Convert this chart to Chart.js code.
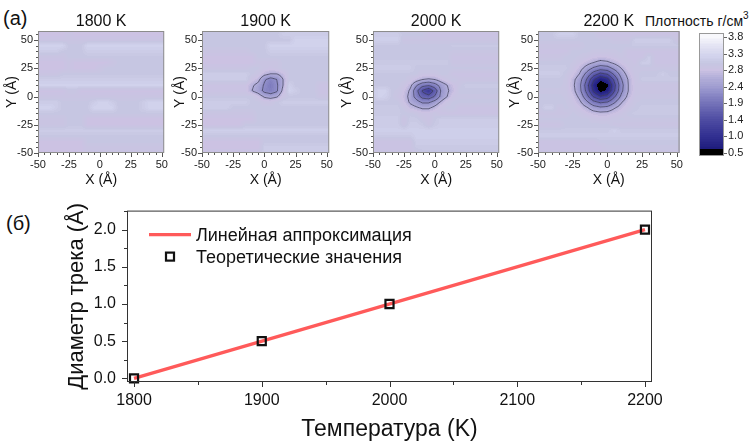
<!DOCTYPE html>
<html><head><meta charset="utf-8">
<script src="https://cdn.jsdelivr.net/npm/chart.js@4.4.1/dist/chart.umd.min.js"></script>
<style>
html,body{margin:0;padding:0;background:#fff;width:755px;height:443px;overflow:hidden;position:relative;font-family:'Liberation Sans',Arial,sans-serif;color:#111}
canvas{position:absolute}
.lbl{position:absolute;line-height:1;white-space:nowrap}
</style></head><body>
<div class="lbl" style="left:3px;top:8px;font-size:20px">(a)</div>
<div class="lbl" style="left:6px;top:213px;font-size:20px">(б)</div>
<div class="lbl" style="left:645px;top:14px;font-size:14px">Плотность г/см<span style="font-size:10px;position:relative;top:-7px">3</span></div>
<canvas id="h0"></canvas><canvas id="h1"></canvas><canvas id="h2"></canvas><canvas id="h3"></canvas>
<canvas id="cb"></canvas><canvas id="main"></canvas>
<script>
// ================= DATA =================
const gridX = [-50,-45,-40,-35,-30,-25,-20,-15,-10,-5,0,5,10,15,20,25,30,35,40,45,50];
const gridY = [60,55,50,45,40,35,30,25,20,15,10,5,0,-5,-10,-15,-20,-25,-30,-35,-40,-45,-50];

const dens1800 = [
 [2.8,2.8,2.8,2.8,2.8,2.8,2.8, 2.8,2.8,2.8,2.8,2.8,2.8,2.8, 2.8,2.8,2.8,2.8,2.8,2.8,2.8],
 [2.8,2.8,2.8,2.8,2.8,2.9,2.8, 2.8,2.8,2.8,2.8,2.8,2.8,2.8, 2.8,2.8,2.8,2.8,2.8,2.8,2.8],
 [2.9,2.9,2.9,2.9,2.9,2.9,2.9, 2.9,2.9,2.9,2.9,2.9,2.9,2.9, 2.9,2.9,2.9,2.9,2.9,2.9,2.9],
 [3.2,3.2,3.2,3.2,3.2,3.0,3.0, 3.0,3.2,3.2,3.2,3.2,3.2,3.2, 3.2,3.2,3.2,3.2,3.2,3.2,3.2],
 [3.1,3.1,3.1,3.1,3.0,3.0,3.0, 3.0,3.1,3.1,3.1,3.1,3.1,3.1, 3.1,3.1,3.1,3.1,3.1,3.1,3.1],
 [2.9,2.9,2.9,2.9,2.9,3.0,3.0, 3.0,3.0,3.0,3.0,3.0,3.0,3.0, 3.0,3.0,3.0,3.0,3.0,3.0,3.0],
 [2.8,2.8,2.8,2.8,2.8,2.9,2.8, 2.8,2.8,2.8,2.8,2.8,2.9,3.0, 3.0,3.0,3.0,3.0,3.0,3.0,3.0],
 [2.8,2.8,2.8,2.8,2.8,2.9,2.8, 2.8,2.8,2.8,2.9,3.0,3.0,3.0, 3.0,3.0,3.0,3.0,3.0,3.0,3.0],
 [2.9,2.9,2.9,2.9,3.0,3.0,3.0, 3.0,3.0,3.0,3.0,3.0,3.0,3.0, 3.0,3.0,3.0,3.0,3.0,3.0,3.0],
 [3.1,3.1,3.1,3.1,3.1,3.1,3.1, 3.1,3.1,3.1,3.1,3.1,3.1,3.1, 3.1,3.1,3.1,3.1,3.1,3.1,3.1],
 [3.2,3.2,3.2,3.2,3.2,3.2,3.2, 3.2,3.2,3.2,3.2,3.2,3.2,3.2, 3.2,3.2,3.2,3.2,3.2,3.2,3.2],
 [2.8,2.8,2.8,2.8,2.8,2.95,2.95, 2.8,2.8,2.8,2.8,2.8,2.8,2.8, 2.8,2.8,2.8,2.8,2.8,2.8,2.8],
 [2.9,2.9,2.9,2.9,2.9,2.9,2.9, 2.9,2.9,2.9,2.9,2.9,2.9,2.9, 2.9,2.9,2.9,2.9,2.9,2.9,2.9],
 [3.1,3.1,3.1,3.1,3.0,3.0,3.0, 3.0,3.0,3.1,3.2,3.2,3.1,3.0, 3.0,3.0,3.0,3.1,3.2,3.2,3.2],
 [3.2,3.2,3.2,3.1,3.0,3.0,3.0, 3.0,3.0,3.2,3.2,3.2,3.2,3.0, 3.0,3.0,3.0,3.1,3.2,3.2,3.2],
 [3.0,3.0,3.0,3.0,3.0,3.0,3.0, 3.0,3.0,3.0,3.0,3.0,3.0,3.0, 3.0,3.0,3.0,3.0,3.0,3.0,3.0],
 [2.9,2.9,2.9,2.9,2.9,3.0,3.0, 3.0,2.8,2.8,2.8,2.8,2.8,2.8, 2.8,2.8,2.8,2.8,2.8,2.8,2.8],
 [2.9,2.9,2.9,2.9,2.9,3.0,3.0, 3.0,2.8,2.8,2.8,2.8,2.8,2.8, 2.8,2.8,2.8,2.8,2.8,2.8,2.8],
 [3.1,3.1,3.1,3.1,3.1,3.1,3.1, 3.1,3.1,3.1,3.1,3.1,3.1,3.1, 3.1,3.1,3.1,3.1,3.1,3.1,3.1],
 [3.0,3.0,3.0,3.0,3.0,3.0,3.0, 3.0,3.0,3.0,3.0,3.0,3.0,3.0, 3.0,3.0,3.0,3.0,3.0,3.0,3.0],
 [2.8,2.8,2.8,2.8,2.8,2.8,2.8, 2.8,3.0,3.0,3.0,3.0,3.0,3.0, 3.0,3.0,3.0,3.0,3.0,3.0,3.0],
 [2.8,2.8,2.8,2.8,2.8,2.8,2.8, 2.8,2.9,2.9,2.9,2.9,2.9,2.9, 2.9,2.9,2.9,2.9,2.9,2.9,2.9],
 [2.8,2.8,2.8,2.8,2.8,2.8,2.8, 2.8,2.9,2.9,2.9,2.9,2.9,2.9, 2.9,2.9,2.9,2.9,2.9,2.9,2.9]
];

const dens1900 = [
 [3.0,3.0,3.0,3.0,3.0,3.0,3.0, 3.0,3.0,3.0,3.0,3.0,3.0,3.0, 3.1,3.1,3.1,3.1,3.1,3.1,3.1],
 [3.0,3.0,3.0,3.0,3.0,3.0,3.0, 3.0,3.0,3.0,3.0,3.0,3.0,3.1, 3.1,3.1,3.1,3.1,3.1,3.1,3.1],
 [3.0,3.0,3.0,3.0,3.0,3.0,3.0, 3.0,3.0,3.0,3.0,3.0,3.0,3.0, 3.0,3.2,3.2,3.2,3.2,3.2,3.2],
 [3.0,3.0,3.0,3.0,3.0,3.0,3.0, 3.0,3.0,3.0,3.0,3.2,3.2,3.2, 3.2,3.2,3.2,3.2,3.2,3.2,3.2],
 [2.9,2.9,2.9,2.9,2.9,2.9,2.9, 2.9,3.0,3.0,3.0,3.1,3.1,3.1, 3.1,3.1,3.1,3.1,3.1,3.1,3.1],
 [2.8,2.8,2.8,2.8,2.8,2.8,2.8, 2.8,2.8,3.0,3.0,3.0,3.0,3.0, 3.0,3.0,3.0,3.0,3.0,3.0,3.0],
 [2.8,2.8,2.8,2.8,2.8,2.8,2.8, 2.8,2.8,2.9,2.9,2.9,2.9,3.0, 3.0,3.0,3.0,3.0,3.0,3.0,3.0],
 [2.9,2.9,2.9,2.9,2.9,2.9,2.9, 2.9,3.0,3.0,2.9,2.85,2.9,3.0, 3.0,3.0,3.0,3.0,3.0,3.0,3.0],
 [3.1,3.1,3.1,3.1,3.1,3.1,3.1, 3.1,3.0,2.9,2.7,2.6,2.6,2.75, 3.0,3.0,3.0,3.0,3.0,3.0,3.0],
 [3.1,3.1,3.1,3.1,3.1,3.1,3.1, 3.1,2.85,2.7,2.3,2.1,2.25,2.6, 3.0,3.0,3.0,3.0,3.0,3.0,3.0],
 [2.85,2.85,2.85,2.85,2.85,2.85,2.85, 2.85,2.65,2.5,2.2,2.0,2.2,2.6, 3.15,3.0,3.0,3.0,3.0,2.85,2.85],
 [2.85,2.85,2.85,2.85,2.85,2.85,2.85, 2.85,2.6,2.45,2.15,2.05,2.2,2.7, 3.2,3.1,3.0,3.0,3.0,2.85,2.85],
 [3.0,3.0,3.0,3.0,3.0,3.0,3.0, 3.0,3.0,2.8,2.55,2.45,2.55,2.9, 3.0,3.0,3.0,3.0,3.0,2.9,2.9],
 [3.1,3.1,3.1,3.1,3.1,3.1,3.1, 3.1,3.0,3.0,2.9,2.9,3.0,3.1, 3.1,3.1,3.1,3.1,3.1,3.1,3.1],
 [3.1,3.1,3.1,3.1,3.1,3.0,3.0, 3.0,3.0,3.0,3.0,3.0,3.0,3.0, 3.0,3.0,3.0,3.0,3.0,3.0,3.0],
 [2.9,2.9,2.9,2.9,2.9,2.9,2.9, 2.9,2.9,3.0,3.0,3.0,3.0,3.0, 3.0,3.0,3.0,3.0,3.0,3.0,3.0],
 [2.8,2.8,2.8,2.8,2.8,2.8,2.8, 2.8,2.8,3.0,3.0,3.0,3.0,3.0, 3.0,3.0,3.0,3.0,3.0,3.0,3.0],
 [2.8,2.8,2.8,2.8,2.8,2.8,2.8, 3.0,3.0,3.0,3.0,3.0,3.0,3.0, 3.0,3.0,3.0,3.0,3.0,3.0,3.0],
 [3.15,3.15,3.15,3.15,3.15,3.15,3.15, 3.15,3.15,3.15,3.15,3.15,3.15,3.15, 3.15,3.15,3.15,3.15,3.15,3.15,3.15],
 [3.0,3.0,3.0,3.0,3.0,3.0,3.0, 3.0,3.0,3.0,3.0,3.0,3.0,3.0, 3.0,3.0,3.0,3.0,3.0,3.0,3.0],
 [2.8,2.8,2.8,2.8,2.8,2.8,2.8, 2.8,2.8,2.8,3.0,3.0,3.0,3.0, 3.0,3.0,3.0,3.0,3.0,3.0,3.0],
 [2.8,2.8,2.8,2.8,2.8,2.8,2.8, 2.8,2.8,2.8,3.1,3.1,3.1,3.1, 3.1,3.1,3.1,3.1,3.1,3.1,3.1],
 [2.9,2.9,2.9,2.9,2.9,2.9,2.9, 2.9,2.9,2.9,3.1,3.1,3.1,3.1, 3.1,3.1,3.1,3.1,3.1,3.1,3.1]
];

const dens2000 = [
 [3.0,3.0,3.0,3.0,3.0,2.9,2.9, 2.9,2.9,2.9,2.9,2.9,2.9,2.9, 2.9,2.9,2.9,2.9,2.9,2.9,2.9],
 [3.1,3.1,3.1,3.1,3.1,3.0,3.0, 3.0,3.0,2.85,2.85,2.85,2.85,2.85, 2.85,2.85,2.85,2.85,2.85,2.85,2.85],
 [3.15,3.15,3.15,3.15,3.15,2.9,2.9, 2.9,2.9,2.9,2.9,2.9,2.9,2.9, 2.9,2.9,2.9,2.9,2.9,2.9,2.9],
 [3.0,3.0,3.0,3.0,3.0,3.0,3.0, 3.0,3.0,3.0,3.0,3.0,3.0,3.05, 3.05,3.05,3.05,3.05,3.05,3.05,3.05],
 [3.0,3.0,3.0,3.0,3.0,3.0,3.0, 3.0,3.0,3.0,3.0,3.0,3.0,2.95, 2.95,2.95,2.95,2.95,2.95,2.95,2.95],
 [3.0,3.0,3.0,3.0,3.0,3.0,3.0, 3.0,3.0,3.0,3.0,3.0,3.0,2.85, 2.85,2.85,2.85,2.85,2.85,2.85,2.85],
 [3.05,3.05,3.05,3.05,3.05,3.05,3.05, 3.05,3.05,3.05,3.05,3.05,3.05,2.9, 2.9,2.9,2.9,2.9,2.9,2.9,2.9],
 [3.1,3.1,3.1,3.1,3.1,3.1,3.1, 3.0,3.0,3.0,3.0,3.0,3.0,3.0, 3.0,3.0,3.0,3.0,3.0,3.0,3.0],
 [3.0,3.0,3.0,3.0,3.0,3.0,3.0, 3.0,2.9,2.9,2.9,3.0,3.0,2.85, 2.85,2.85,2.85,2.85,2.85,2.85,2.85],
 [3.0,3.0,3.0,3.0,3.0,3.0,2.9, 2.75,2.6,2.55,2.6,2.75,2.9,3.0, 2.9,2.9,2.9,2.9,2.9,2.9,2.9],
 [3.0,3.0,3.0,3.0,3.0,2.9,2.7, 2.3,2.0,1.9,2.1,2.4,2.6,2.8, 2.95,3.05,3.05,3.05,3.05,3.05,3.05],
 [3.1,3.2,3.2,3.0,2.95,2.8,2.55, 2.0,1.4,1.1,1.6,2.3,2.55,2.75, 3.0,3.0,3.0,3.0,3.0,3.0,3.0],
 [3.05,3.2,3.15,3.0,2.9,2.75,2.5, 2.1,1.7,1.6,1.9,2.35,2.6,2.9, 2.95,2.95,2.95,2.95,2.95,2.95,2.95],
 [3.0,3.0,3.0,3.0,3.0,2.8,2.55, 2.4,2.2,2.2,2.4,2.65,2.9,3.0, 3.0,3.0,3.0,3.0,3.0,3.0,3.0],
 [3.05,3.05,3.05,3.05,3.05,2.95,2.75, 2.65,2.55,2.55,2.7,2.9,3.0,3.0, 2.85,2.85,2.85,2.85,2.85,2.85,2.85],
 [3.05,3.05,3.05,3.05,3.05,3.0,3.0, 2.95,2.85,2.85,2.95,2.85,2.85,2.85, 2.85,2.85,2.85,2.85,2.85,2.85,2.85],
 [3.1,3.1,3.1,3.1,3.1,2.85,3.05, 3.05,2.95,2.85,3.0,3.1,3.1,3.1, 3.1,3.1,3.1,3.1,3.1,3.1,3.1],
 [3.1,3.1,3.1,3.1,3.1,2.9,3.1, 3.1,3.05,2.9,3.05,3.1,3.1,3.1, 3.1,3.1,3.1,3.1,3.1,3.1,3.1],
 [3.15,3.15,3.15,3.15,3.15,3.15,3.15, 3.15,3.15,3.15,3.15,3.15,3.15,3.15, 3.15,3.15,3.15,3.15,3.15,3.15,3.15],
 [3.05,3.05,3.05,3.05,3.05,3.05,3.05, 3.15,3.15,3.15,3.15,3.15,3.15,3.15, 3.15,3.15,3.15,3.15,3.15,3.15,3.15],
 [2.85,2.85,2.85,2.85,2.85,2.85,2.85, 3.1,3.1,3.1,3.1,3.1,3.1,3.1, 3.1,3.1,3.1,3.1,3.1,3.1,3.1],
 [2.85,2.85,2.85,2.85,2.85,2.85,2.85, 3.05,3.05,3.05,3.05,3.05,3.05,3.05, 3.05,3.05,3.05,3.05,3.05,3.05,3.05],
 [2.9,2.9,2.9,2.9,2.9,2.9,2.9, 2.9,3.0,3.0,3.0,3.0,3.0,3.0, 3.0,3.0,3.0,3.0,3.0,3.0,3.0]
];

const dens2200 = [
 [3.0,3.0,3.0,3.0,3.0,3.0,3.0, 3.0,2.85,2.85,2.85,2.85,2.85,2.85, 2.85,2.85,2.85,2.85,2.85,2.85,2.85],
 [3.0,3.0,3.0,3.15,3.15,3.15,3.0, 3.0,3.0,2.85,2.85,2.85,2.85,2.85, 2.85,2.85,2.85,2.85,2.85,2.85,2.85],
 [3.0,3.0,3.0,3.0,3.0,3.0,3.0, 3.0,3.0,3.0,3.0,2.9,2.9,2.9, 3.1,3.1,3.1,3.1,3.1,3.1,2.9],
 [2.9,2.9,2.9,2.9,2.9,2.9,2.9, 3.0,3.0,3.0,3.0,3.0,3.0,3.0, 3.05,3.05,3.05,3.05,3.05,3.05,3.05],
 [2.85,2.85,2.85,2.85,2.85,3.0,3.0, 3.0,2.95,2.95,2.95,2.95,3.0,2.85, 2.85,2.85,2.85,2.85,2.85,2.85,2.85],
 [2.9,2.9,2.9,2.9,3.0,3.0,2.96, 2.89,2.82,2.78,2.8,2.86,2.94,2.85, 2.85,2.85,3.1,2.85,2.85,2.85,2.85],
 [3.0,3.0,3.0,3.0,3.0,2.97,2.86, 2.73,2.6,2.49,2.54,2.67,2.82,2.94, 2.85,3.1,3.1,2.85,2.85,2.85,2.85],
 [3.05,3.05,3.05,3.05,3.05,2.91,2.73, 2.47,2.19,2.02,2.09,2.35,2.6,2.85, 2.97,2.95,2.95,2.95,2.95,2.95,2.95],
 [3.1,3.1,3.1,3.1,2.97,2.83,2.59, 2.15,1.66,1.35,1.49,1.94,2.41,2.72, 2.94,3.0,3.0,3.0,3.1,3.0,3.0],
 [3.0,3.0,3.0,3.0,2.96,2.7,2.42, 1.85,1.13,0.7,0.9,1.54,2.22,2.62, 2.89,3.05,3.05,3.05,3.05,3.05,3.05],
 [3.0,3.0,3.0,3.0,2.95,2.68,2.34, 1.67,0.85,0.37,0.57,1.33,2.11,2.6, 2.88,2.9,2.9,2.9,2.9,2.9,2.9],
 [2.95,2.95,2.95,2.95,2.95,2.72,2.37, 1.76,0.98,0.52,0.71,1.42,2.16,2.6, 2.88,2.9,2.9,2.9,2.9,2.9,2.9],
 [3.0,3.0,3.0,3.0,2.96,2.81,2.52, 2.01,1.42,1.09,1.24,1.79,2.33,2.68, 2.92,2.95,2.95,2.95,2.95,2.95,2.95],
 [3.0,3.0,3.0,3.0,2.98,2.88,2.67, 2.34,1.98,1.79,1.87,2.2,2.57,2.81, 2.96,3.0,3.0,3.0,3.0,3.0,3.0],
 [2.9,3.1,3.1,2.9,3.0,2.95,2.82, 2.65,2.43,2.33,2.37,2.57,2.75,2.9, 2.99,3.05,3.05,3.05,3.05,3.05,3.05],
 [2.9,2.9,2.9,2.9,2.9,2.99,2.94, 2.83,2.74,2.69,2.71,2.79,2.89,3.0, 3.05,3.05,3.05,3.05,3.05,3.05,3.05],
 [3.0,3.0,3.0,3.0,3.0,3.0,3.0, 3.0,2.91,2.88,2.89,2.95,3.0,2.95, 2.95,2.95,2.95,2.95,2.95,2.95,2.95],
 [2.85,2.85,2.85,2.85,3.0,3.0,3.0, 3.0,3.0,3.0,3.0,2.9,2.9,2.9, 2.9,2.9,2.9,2.9,2.9,2.9,2.9],
 [3.05,3.05,3.05,3.05,3.05,3.05,3.05, 3.05,3.05,3.05,3.05,3.15,3.05,3.05, 3.05,3.05,3.05,3.05,3.05,3.05,3.05],
 [3.1,3.1,3.1,3.1,3.1,3.1,3.1, 3.1,3.1,3.1,3.1,3.1,3.1,3.1, 3.1,3.1,3.1,3.1,3.1,3.1,3.1],
 [2.85,2.85,2.85,2.85,2.85,2.85,2.85, 2.85,2.85,3.0,3.0,3.0,3.0,3.0, 3.0,3.0,3.0,3.0,3.0,3.0,3.0],
 [2.85,2.85,2.85,2.85,2.85,2.85,2.85, 2.85,2.85,2.85,2.95,2.95,2.95,2.95, 2.95,2.95,2.95,2.95,2.95,2.95,2.95],
 [2.9,2.9,2.9,2.9,2.9,2.9,2.9, 2.9,2.9,2.9,2.9,2.9,2.9,2.9, 2.9,2.9,2.9,2.9,2.9,2.9,2.9]
];

const panelTitles = ['1800 K','1900 K','2000 K','2200 K'];
const axisTicksXY = [-50,-25,0,25,50];
const contourLevels = [2.6,2.25,1.85,1.45,1.05];
const cbLabels = ['0.5','1.0','1.4','1.9','2.4','2.8','3.3','3.8'];
const cbValues = [0.5,1.0,1.4,1.9,2.4,2.8,3.3,3.8];

const temperatures = [1800,1900,2000,2200];
const trackDiameter = [0.0,0.5,1.0,2.0];
const fitT = [1800,2200];
const fitD = [0.0,2.0];
const tempTicks = [1800,1900,2000,2100,2200];
const tempMinor = [1850,1950,2050,2150];
const diamTicks = [0.0,0.5,1.0,1.5,2.0];
const diamMinor = [0.25,0.75,1.25,1.75,2.25];

// ================= STYLE =================
const FONT = "'Liberation Sans', Arial, sans-serif";
Chart.defaults.font.family = FONT;
Chart.defaults.color = '#1a1a1a';

const cmapStops = [
 [0.00,0,0,0],[0.60,0,0,0],[0.62,30,28,125],[1.00,50,48,145],[1.45,82,80,165],
 [1.85,113,111,183],[2.25,146,144,202],[2.60,178,174,217],[2.80,204,194,227],
 [3.00,198,198,226],[3.20,209,210,236],[3.50,226,226,243],[3.80,248,248,252],[5.0,255,255,255]
];
function cmap(v){
  v = Math.floor(v/0.05 + 0.5)*0.05;
  if (v <= cmapStops[0][0]) return cmapStops[0].slice(1);
  for (let k=1;k<cmapStops.length;k++){
    const b = cmapStops[k];
    if (v <= b[0]) { const a = cmapStops[k-1]; const t=(v-a[0])/(b[0]-a[0]);
      return [a[1]+(b[1]-a[1])*t, a[2]+(b[2]-a[2])*t, a[3]+(b[3]-a[3])*t]; }
  }
  return cmapStops[cmapStops.length-1].slice(1);
}
function sampleGrid(grid, xv, yv){
  let fx=(xv-gridX[0])/(gridX[1]-gridX[0]), fy=(yv-gridY[0])/(gridY[1]-gridY[0]);
  fx=Math.max(0,Math.min(gridX.length-1,fx)); fy=Math.max(0,Math.min(gridY.length-1,fy));
  const i0=Math.min(Math.floor(fx),gridX.length-2), j0=Math.min(Math.floor(fy),gridY.length-2);
  const tx=fx-i0, ty=fy-j0;
  const v00=grid[j0][i0], v10=grid[j0][i0+1], v01=grid[j0+1][i0], v11=grid[j0+1][i0+1];
  return (v00*(1-tx)+v10*tx)*(1-ty)+(v01*(1-tx)+v11*tx)*ty;
}
function range(a,b,s,skip){ const r=[]; for(let v=a; v<=b+1e-9; v+=s){ if(!skip.some(m=>Math.abs(m-v)<1e-6)) r.push(v);} return r; }

const heatPlugin = {
  id:'heat',
  beforeDatasetsDraw(chart, args, o){
    const {ctx, chartArea:a, scales:{x,y}} = chart;
    const w=Math.round(a.right-a.left), h=Math.round(a.bottom-a.top);
    const field=new Float32Array(w*h);
    const img=ctx.createImageData(w,h);
    for(let j=0;j<h;j++){ const yv=y.getValueForPixel(a.top+j+0.5);
      for(let i=0;i<w;i++){ const xv=x.getValueForPixel(a.left+i+0.5);
        const v=sampleGrid(o.grid,xv,yv); field[j*w+i]=v; const c=cmap(v); const p=(j*w+i)*4;
        img.data[p]=c[0]; img.data[p+1]=c[1]; img.data[p+2]=c[2]; img.data[p+3]=255; } }
    const off=document.createElement('canvas'); off.width=w; off.height=h;
    off.getContext('2d').putImageData(img,0,0);
    ctx.drawImage(off,a.left,a.top);
    ctx.save(); ctx.beginPath();
    for(const level of o.levels){
      for(let j=0;j<h-1;j++) for(let i=0;i<w-1;i++){
        const A=field[j*w+i], B=field[j*w+i+1], C=field[(j+1)*w+i+1], D=field[(j+1)*w+i];
        const pts=[];
        if((A<level)!==(B<level)) pts.push([i+(level-A)/(B-A), j]);
        if((B<level)!==(C<level)) pts.push([i+1, j+(level-B)/(C-B)]);
        if((C<level)!==(D<level)) pts.push([i+1-(level-C)/(D-C), j+1]);
        if((D<level)!==(A<level)) pts.push([i, j+1-(level-D)/(A-D)]);
        for(let k=0;k+1<pts.length;k+=2){
          ctx.moveTo(a.left+pts[k][0]+0.5, a.top+pts[k][1]+0.5);
          ctx.lineTo(a.left+pts[k+1][0]+0.5, a.top+pts[k+1][1]+0.5);
        }
      }
    }
    ctx.strokeStyle='rgba(60,60,85,0.6)'; ctx.lineWidth=0.7; ctx.lineCap='round'; ctx.stroke();
    ctx.restore();
  }
};

const framePlugin = {
  id:'frame',
  afterDraw(chart, args, o){
    const {ctx, chartArea:a, scales:{x,y}} = chart;
    ctx.save(); ctx.strokeStyle=o.color; ctx.lineWidth=o.width||1;
    ctx.strokeRect(a.left+0.5, a.top+0.5, a.right-a.left-1, a.bottom-a.top-1);
    ctx.beginPath();
    const tick=(vals,len,isX)=>{ for(const v of vals){
      if(isX){ const px=Math.round(x.getPixelForValue(v))+0.5; ctx.moveTo(px,a.bottom); ctx.lineTo(px,a.bottom+len); }
      else { const py=Math.round(y.getPixelForValue(v))+0.5; ctx.moveTo(a.left,py); ctx.lineTo(a.left-len,py); } } };
    tick(o.xMajor,o.majorLen,true); tick(o.xMinor,o.minorLen,true);
    tick(o.yMajor,o.majorLen,false); tick(o.yMinor,o.minorLen,false);
    ctx.strokeStyle=o.tickColor||o.color; ctx.stroke();
    if(o.title){ ctx.fillStyle='#111'; ctx.font='16px '+FONT; ctx.textAlign='center'; ctx.textBaseline='middle';
      ctx.fillText(o.title,(a.left+a.right)/2,o.titleY); }
    ctx.restore();
  }
};

// ================= HEATMAPS =================
const panels = [
  {id:'h0', L:38,  R:167, yt:26, grid:dens1800},
  {id:'h1', L:202, R:332, yt:22, grid:dens1900},
  {id:'h2', L:373, R:502, yt:26, grid:dens2000},
  {id:'h3', L:538, R:682, yt:23, grid:dens2200}
];
const T=31, B=153, YL=40, HH=195;
panels.forEach((p,k)=>{
  const cv=document.getElementById(p.id);
  cv.width=p.R-p.L+YL+6; cv.height=HH; cv.style.left=(p.L-YL)+'px'; cv.style.top='0px';
  const pts=[]; gridY.forEach((yy,j)=>gridX.forEach((xx,i)=>pts.push({x:xx,y:yy,v:p.grid[j][i]})));
  new Chart(cv,{
    type:'scatter',
    data:{datasets:[{data:pts,pointRadius:0,pointHoverRadius:0}]},
    options:{
      responsive:false, animation:false, devicePixelRatio:1, events:[],
      layout:{autoPadding:false, padding:{top:T,left:0,right:6,bottom:0}},
      plugins:{legend:{display:false}, tooltip:{enabled:false},
        heat:{grid:p.grid, levels:contourLevels},
        frame:{color:'#8c8c8c', tickColor:'#555', majorLen:4, minorLen:2,
          xMajor:axisTicksXY, xMinor:range(-50,52,5,axisTicksXY),
          yMajor:axisTicksXY, yMinor:range(-50,58,5,axisTicksXY),
          title:panelTitles[k], titleY:22}},
      scales:{
        x:{type:'linear', min:-50, max:52,
          afterBuildTicks:s=>{s.ticks=axisTicksXY.map(v=>({value:v}));},
          afterFit:s=>{s.height=HH-B;},
          grid:{display:false, drawTicks:false}, border:{display:false},
          ticks:{padding:5, font:{size:11}, color:'#222', maxRotation:0, autoSkip:false, callback:v=>String(v)},
          title:{display:true, text:'X (Å)', font:{size:14}, color:'#111', padding:{top:0,bottom:6.6}}},
        y:{type:'linear', min:-50, max:58,
          afterBuildTicks:s=>{s.ticks=axisTicksXY.map(v=>({value:v}));},
          afterFit:s=>{s.width=YL;},
          grid:{display:false, drawTicks:false}, border:{display:false},
          ticks:{padding:5, font:{size:11}, color:'#222', autoSkip:false, callback:v=>String(v)},
          title:{display:true, text:'Y (Å)', font:{size:14}, color:'#111', padding:{top:YL-p.yt-8.4,bottom:0}}}
      }
    },
    plugins:[heatPlugin, framePlugin]
  });
});

// ================= COLORBAR =================
const cbPlugin = {
  id:'cbar',
  beforeDatasetsDraw(chart){
    const {ctx, chartArea:a, scales:{y}} = chart;
    for(let py=Math.floor(a.top); py<a.bottom; py++){
      const idx=y.getValueForPixel(py+0.5); let d;
      if(idx<0) d=0.3;
      else if(idx>=cbValues.length-1) d=3.85;
      else { const i0=Math.floor(idx), t=idx-i0; d=cbValues[i0]+(cbValues[i0+1]-cbValues[i0])*t; d=Math.max(d,0.62); }
      const c=cmap(d); ctx.fillStyle=`rgb(${c[0]|0},${c[1]|0},${c[2]|0})`; ctx.fillRect(a.left,py,a.right-a.left,1);
    }
  },
  afterDraw(chart){
    const {ctx, chartArea:a, scales:{y}} = chart;
    ctx.save(); ctx.strokeStyle='#999'; ctx.lineWidth=1;
    ctx.strokeRect(a.left+0.5,a.top+0.5,a.right-a.left-1,a.bottom-a.top-1);
    ctx.beginPath(); cbLabels.forEach((_,i)=>{ const py=Math.round(y.getPixelForValue(i))+0.5; ctx.moveTo(a.right,py); ctx.lineTo(a.right+3,py); });
    ctx.strokeStyle='#666'; ctx.stroke(); ctx.restore();
  }
};
(function(){
  const cv=document.getElementById('cb'); cv.width=65; cv.height=170; cv.style.left='690px'; cv.style.top='0px';
  new Chart(cv,{type:'scatter', data:{datasets:[{data:cbValues.map((v,i)=>({x:0.5,y:i})),pointRadius:0}]},
    options:{responsive:false, animation:false, devicePixelRatio:1, events:[],
      layout:{autoPadding:false, padding:{top:33,left:9,right:0,bottom:14}},
      plugins:{legend:{display:false},tooltip:{enabled:false}},
      scales:{x:{display:false,min:0,max:1},
        y:{position:'right', min:-0.18, max:7.24,
          afterBuildTicks:s=>{s.ticks=cbLabels.map((_,i)=>({value:i}));},
          afterFit:s=>{s.width=31;},
          grid:{display:false,drawTicks:false}, border:{display:false},
          ticks:{padding:4, font:{size:11}, color:'#222', autoSkip:false, callback:v=>cbLabels[Math.round(v)]}}}},
    plugins:[cbPlugin]});
})();

// ================= LINE CHART =================
const legendPlugin = {
  id:'ilegend',
  afterDatasetsDraw(chart){
    const {ctx, chartArea:a} = chart; const ds=chart.data.datasets;
    ctx.save();
    ctx.font='18px '+FONT; ctx.fillStyle='#111'; ctx.textBaseline='middle'; ctx.textAlign='left';
    const y1=a.top+24, y2=a.top+46, x0=a.left+22;
    ctx.strokeStyle=ds[0].borderColor; ctx.lineWidth=ds[0].borderWidth; ctx.beginPath(); ctx.moveTo(x0,y1); ctx.lineTo(x0+42,y1); ctx.stroke();
    ctx.fillText(ds[0].label, x0+47, y1+1);
    ctx.strokeStyle=ds[1].borderColor; ctx.lineWidth=ds[1].borderWidth; ctx.strokeRect(x0+17,y2-4,8,8);
    ctx.fillText(ds[1].label, x0+47, y2+1);
    ctx.restore();
  }
};
(function(){
  const cv=document.getElementById('main'); cv.width=755; cv.height=253; cv.style.left='0px'; cv.style.top='190px';
  new Chart(cv,{
    type:'scatter',
    data:{datasets:[
      {label:'Линейная аппроксимация', data:fitT.map((t,i)=>({x:t,y:fitD[i]})), showLine:true,
        borderColor:'#ff5a5a', backgroundColor:'#ff5a5a', borderWidth:3.2, pointRadius:0, order:1},
      {label:'Теоретические значения', data:temperatures.map((t,i)=>({x:t,y:trackDiameter[i]})), showLine:false,
        pointStyle:'rect', pointRadius:5.7, borderColor:'#111', borderWidth:2.2, backgroundColor:'rgba(0,0,0,0)', order:0, clip:false}
    ]},
    options:{responsive:false, animation:false, devicePixelRatio:1, events:[],
      layout:{autoPadding:false, padding:{top:18,left:0,right:103,bottom:0}},
      plugins:{legend:{display:false},tooltip:{enabled:false},
        frame:{color:'#333', tickColor:'#333', majorLen:5, minorLen:3,
          xMajor:tempTicks, xMinor:tempMinor, yMajor:diamTicks, yMinor:diamMinor}},
      scales:{
        x:{type:'linear', min:1794.5, max:2205.5,
          afterBuildTicks:s=>{s.ticks=tempTicks.map(v=>({value:v}));},
          afterFit:s=>{s.height=61;},
          grid:{display:false,drawTicks:false}, border:{display:false},
          ticks:{padding:9, font:{size:16}, color:'#111', maxRotation:0, autoSkip:false, callback:v=>String(v)},
          title:{display:true, text:'Температура (K)', font:{size:23}, color:'#111', padding:{top:0,bottom:0}}},
        y:{type:'linear', min:-0.049, max:2.256,
          afterBuildTicks:s=>{s.ticks=diamTicks.map(v=>({value:v}));},
          afterFit:s=>{s.width=127;},
          grid:{display:false,drawTicks:false}, border:{display:false},
          ticks:{padding:11, font:{size:16}, color:'#111', autoSkip:false, callback:v=>Number(v).toFixed(1)},
          title:{display:true, text:'Диаметр трека (Å)', font:{size:22}, color:'#111', padding:{top:63.8,bottom:0}}}
      }},
    plugins:[framePlugin, legendPlugin]
  });
})();
</script>
</body></html>
